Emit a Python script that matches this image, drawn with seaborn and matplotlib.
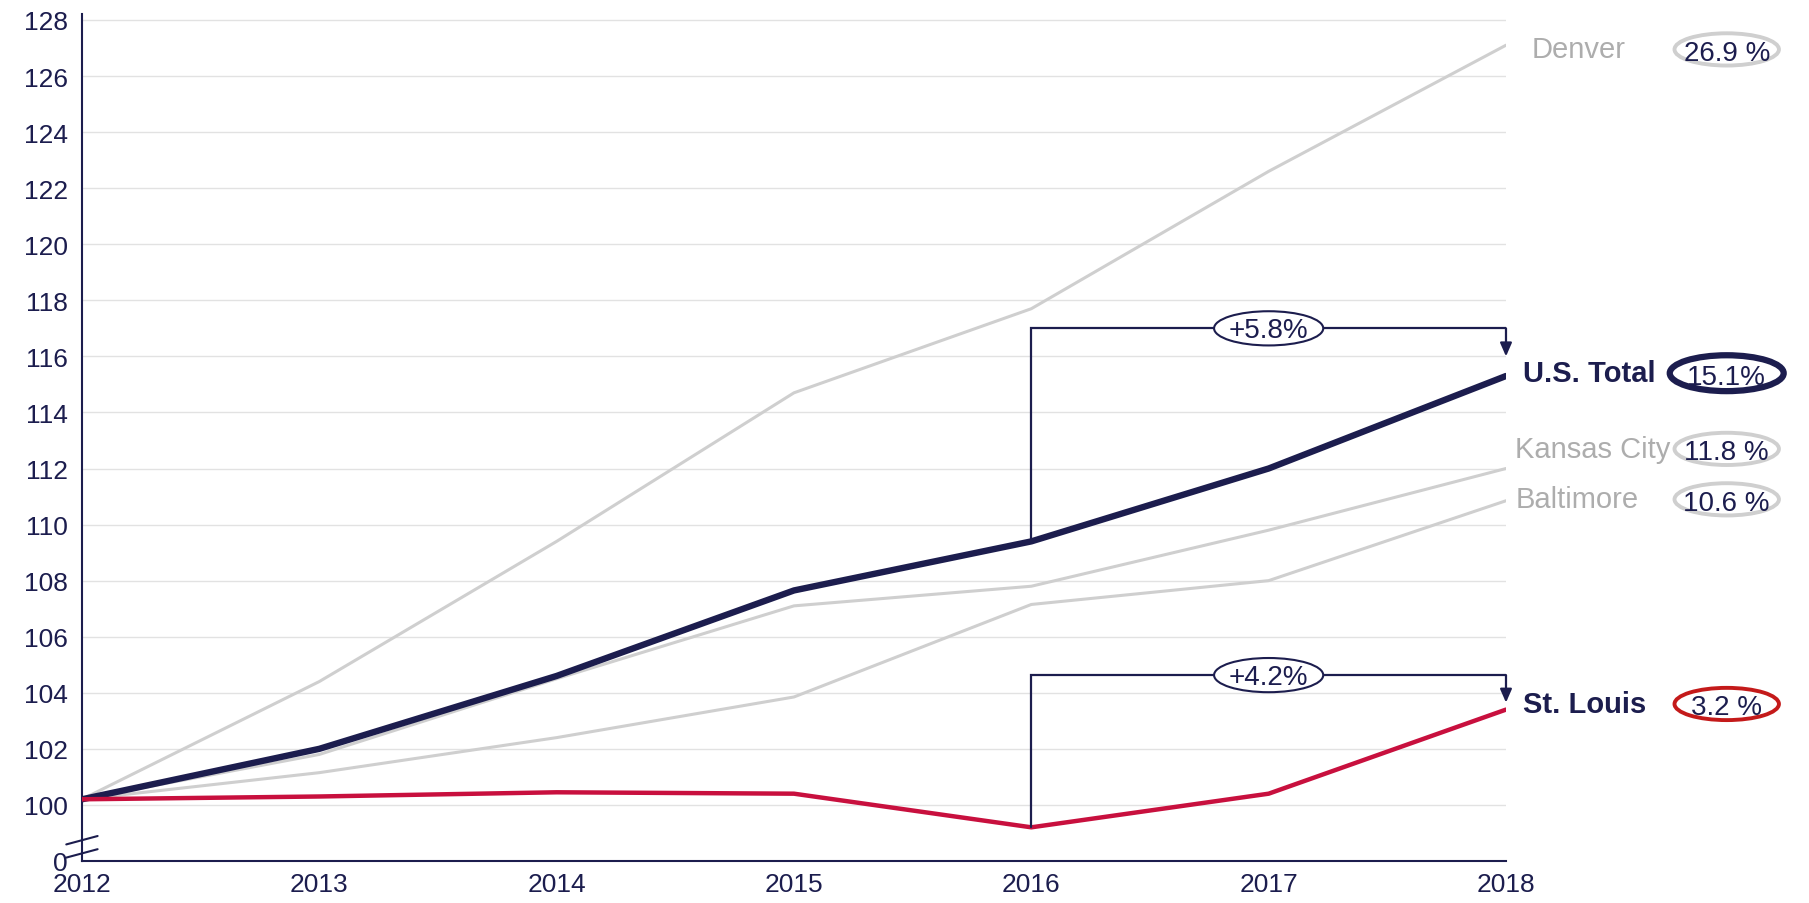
import numpy as np
import pandas as pd
import matplotlib
matplotlib.use("Agg")
import matplotlib.pyplot as plt
from matplotlib.patches import Ellipse
import seaborn as sns

# DATA (index, 2012 = ~100)
years = [2012, 2013, 2014, 2015, 2016, 2017, 2018]
denver = [100.2, 104.4, 109.4, 114.7, 117.7, 122.6, 127.1]
kansas_city = [100.2, 101.8, 104.5, 107.1, 107.8, 109.8, 112.0]
baltimore = [100.2, 101.15, 102.4, 103.85, 107.15, 108.0, 110.85]
us_total = [100.2, 102.0, 104.6, 107.65, 109.4, 112.0, 115.3]
st_louis = [100.2, 100.3, 100.45, 100.4, 99.2, 100.4, 103.4]

series_names = ["Denver", "Kansas City", "Baltimore", "U.S. Total", "St. Louis"]
growth_labels = ["26.9 %", "11.8 %", "10.6 %", "15.1%", "3.2 %"]
label_y = [126.95, 112.7, 110.9, 115.4, 103.6]
gap_labels = ["+5.8%", "+4.2%"]
bracket_top = [117.0, 104.63]
arrow_end = [116.0, 103.65]

yticks = list(range(100, 129, 2))

NAVY = "#1c1d4e"
RED = "#c8103e"
GRAY = "#cfcfcf"
LABEL_GRAY = "#adadad"

df = pd.DataFrame({"year": years * 5,
                   "value": denver + kansas_city + baltimore + us_total + st_louis,
                   "city": sum([[n] * len(years) for n in series_names], [])})

sns.set_style("white")
plt.rcParams['font.family'] = ['Liberation Sans', 'DejaVu Sans']

fig = plt.figure(figsize=(18.09, 9.04), dpi=100)
ax = fig.add_axes([0.0453, 0.0465, 0.7872, 0.9365])

# gray comparison lines
gray = df[df.city.isin(["Denver", "Kansas City", "Baltimore"])]
sns.lineplot(data=gray, x="year", y="value", units="city", estimator=None,
             color=GRAY, lw=2.2, ax=ax, zorder=2)
sns.lineplot(data=df[df.city == "U.S. Total"], x="year", y="value",
             color=NAVY, lw=4.6, ax=ax, zorder=4)
sns.lineplot(data=df[df.city == "St. Louis"], x="year", y="value",
             color=RED, lw=3.2, ax=ax, zorder=4)

ax.set_xlim(2012, 2018)
ax.set_ylim(98, 128.2)
ax.set_yticks([98] + yticks)
ax.set_yticklabels(["0"] + [str(t) for t in yticks])
ax.set_xticks(years)
ax.set_xlabel("")
ax.set_ylabel("")
for t in yticks:
    ax.axhline(t, color="#e2e2e2", lw=1.0, zorder=1)

for s in ["top", "right"]:
    ax.spines[s].set_visible(False)
for s in ["left", "bottom"]:
    ax.spines[s].set_color(NAVY)
    ax.spines[s].set_linewidth(1.5)
ax.tick_params(axis="both", colors=NAVY, labelsize=19, length=6, width=1.5,
               direction="out", pad=4)
ax.tick_params(axis="x", pad=2)

# axis break marks
trans = ax.get_yaxis_transform()
for yb in [98.74, 98.27]:
    ax.plot([-0.011, 0.011], [yb - 0.15, yb + 0.15], transform=trans,
            color=NAVY, lw=1.5, clip_on=False, zorder=6)

# right-hand labels
name_x = [2018.11, 2018.04, 2018.04, 2018.07, 2018.07]
name_col = [LABEL_GRAY, LABEL_GRAY, LABEL_GRAY, NAVY, NAVY]
name_wt = ["normal", "normal", "normal", "bold", "bold"]
name_fs = [21, 21, 21, 21, 21]
ell_edge = [GRAY, GRAY, GRAY, NAVY, "#c41a1a"]
ell_lw = [2.8, 2.8, 2.8, 4.5, 2.8]
ell_w = [0.44, 0.44, 0.44, 0.48, 0.44]
ell_h = [1.15, 1.15, 1.15, 1.28, 1.15]
for i, name in enumerate(series_names):
    ax.text(name_x[i], label_y[i], name, color=name_col[i], fontsize=name_fs[i],
            fontweight=name_wt[i], va="center", ha="left", clip_on=False)
    ax.add_patch(Ellipse((2018.93, label_y[i]), ell_w[i], ell_h[i], fc="white",
                         ec=ell_edge[i], lw=ell_lw[i], clip_on=False, zorder=5))
    ax.text(2018.93, label_y[i] - 0.12, growth_labels[i], color=NAVY, fontsize=20,
            va="center", ha="center", clip_on=False, zorder=6)

# brackets 2016 -> 2018
starts = [us_total[4], st_louis[4]]
for i in range(2):
    ax.plot([2016, 2016, 2018], [starts[i], bracket_top[i], bracket_top[i]],
            color=NAVY, lw=1.6, zorder=5, solid_joinstyle="miter")
    ax.annotate("", xy=(2018, arrow_end[i]), xytext=(2018, bracket_top[i]),
                arrowprops=dict(arrowstyle="-|>,head_width=0.35,head_length=0.8",
                                color=NAVY, lw=1.6, shrinkA=0, shrinkB=0),
                zorder=5)
    ax.add_patch(Ellipse((2017, bracket_top[i]), 0.46, 1.22, fc="white",
                         ec=NAVY, lw=1.5, zorder=6))
    ax.text(2017, bracket_top[i] - 0.05, gap_labels[i], color=NAVY, fontsize=20,
            ha="center", va="center", zorder=7)

fig.savefig("out.png", dpi=100)
